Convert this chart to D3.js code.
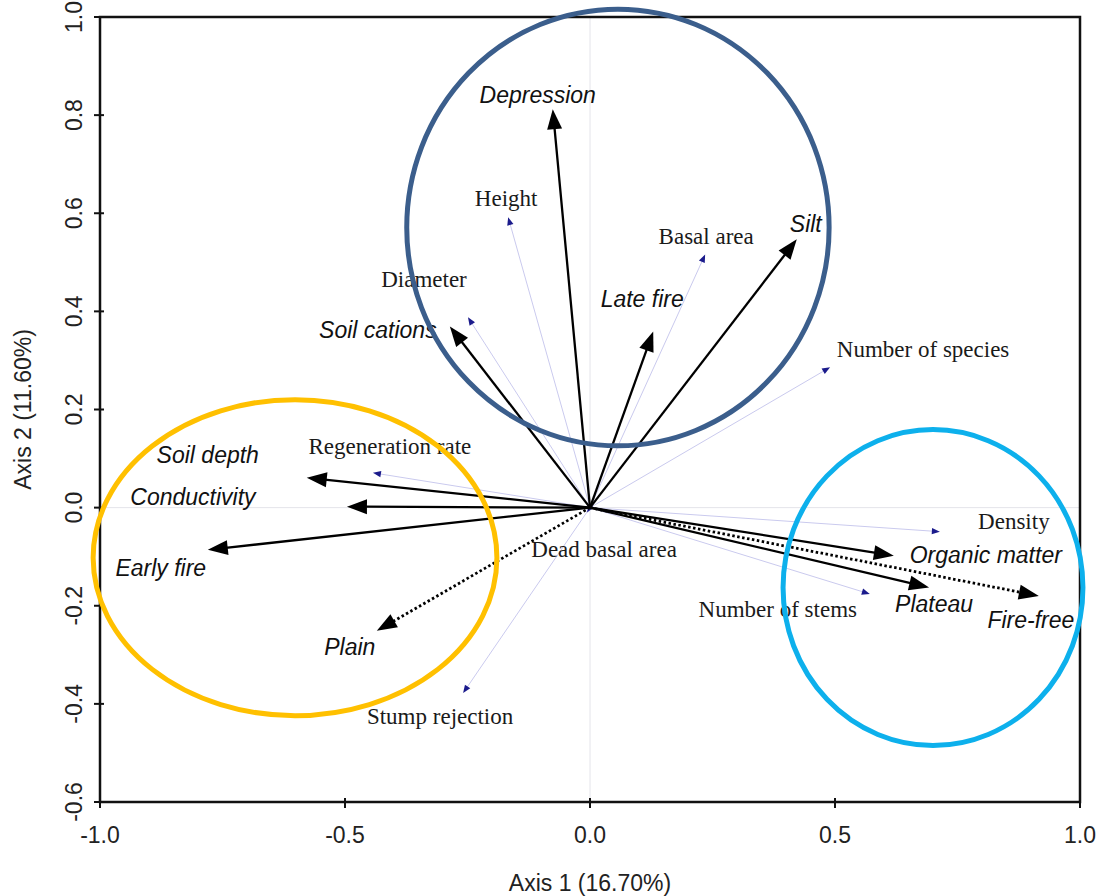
<!DOCTYPE html>
<html>
<head>
<meta charset="utf-8">
<script src="https://cdn.jsdelivr.net/npm/d3@7"></script>
<style>
  html, body { margin: 0; padding: 0; background: #fff; }
  svg { display: block; }
</style>
</head>
<body>
<svg id="chart" width="1097" height="896"></svg>
<script>
// ---------------- DATA ----------------
const xTickValues = [-1.0, -0.5, 0.0, 0.5, 1.0];
const xTickLabels = ["-1.0", "-0.5", "0.0", "0.5", "1.0"];
const yTickValues = [-0.6, -0.4, -0.2, 0.0, 0.2, 0.4, 0.6, 0.8, 1.0];
const yTickLabels = ["-0.6", "-0.4", "-0.2", "0.0", "0.2", "0.4", "0.6", "0.8", "1.0"];
const xAxisTitle = "Axis 1 (16.70%)";
const yAxisTitle = "Axis 2 (11.60%)";

// Environmental variables (black arrows)
const envNames = ["Depression", "Silt", "Late fire", "Soil cations", "Soil depth", "Conductivity",
                  "Early fire", "Plain", "Organic matter", "Plateau", "Fire-free"];
const envAxis1 = [-0.076, 0.422, 0.129, -0.286, -0.578, -0.496, -0.780, -0.435, 0.620, 0.692, 0.916];
const envAxis2 = [0.812, 0.547, 0.359, 0.369, 0.061, 0.002, -0.086, -0.251, -0.098, -0.163, -0.180];
const envDotted = [false, false, false, false, false, false, false, true, false, false, true];

// Stand structure variables (thin blue arrows)
const structNames = ["Height", "Basal area", "Diameter", "Number of species", "Regeneration rate",
                     "Density", "Number of stems", "Stump rejection", "Dead basal area"];
const structAxis1 = [-0.167, 0.235, -0.249, 0.490, -0.443, 0.714, 0.571, -0.259, -0.006];
const structAxis2 = [0.592, 0.516, 0.388, 0.286, 0.071, -0.049, -0.176, -0.378, -0.010];

// Highlight ellipses (centre and radii in axis units)
const groupNames = ["top", "left", "right"];
const groupCx = [0.057, -0.602, 0.700];
const groupCy = [0.571, -0.102, -0.163];
const groupRx = [0.431, 0.412, 0.306];
const groupRy = [0.445, 0.322, 0.322];

// ---------------- LAYOUT / STYLE ----------------
const groupColors = ["#3b5e8c", "#ffc000", "#0db0ec"];
// label offsets (px) from arrow tip: [dx (centre), dy (baseline)]
const envLabelOffsets = [[-15, -6], [9, -7], [-11, -24], [-72, 11], [-99, -15], [-154, -2],
                         [-47, 26], [-27, 24], [92, 7], [5, 24], [-8, 32]];
const structLabelOffsets = [[-2, -11], [1, -10], [-44, -30], [93, -10], [17, -19],
                            [74, -3], [-92, 23], [-23, 31], [17, 44]];

const svg = d3.select("#chart");
const x = d3.scaleLinear().domain([-1, 1]).range([100, 1080]);
const y = d3.scaleLinear().domain([-0.6, 1.0]).range([802, 17]);

const sansFont = "'Liberation Sans', Arial, Helvetica, sans-serif";
const serifFont = "'Liberation Serif', 'Times New Roman', serif";

// zero reference lines
svg.append("line").attr("x1", x(0)).attr("x2", x(0)).attr("y1", y(1)).attr("y2", y(-0.6))
  .attr("stroke", "#e4e4ea").attr("stroke-width", 1);
svg.append("line").attr("x1", x(-1)).attr("x2", x(1)).attr("y1", y(0)).attr("y2", y(0))
  .attr("stroke", "#e4e4ea").attr("stroke-width", 1);

// frame
svg.append("rect").attr("x", x(-1)).attr("y", y(1)).attr("width", x(1) - x(-1)).attr("height", y(-0.6) - y(1))
  .attr("fill", "none").attr("stroke", "#111").attr("stroke-width", 2.5);

// x ticks
const xg = svg.append("g");
xTickValues.forEach((v, i) => {
  xg.append("line").attr("x1", x(v)).attr("x2", x(v)).attr("y1", y(-0.6) - 4).attr("y2", y(-0.6) + 6)
    .attr("stroke", "#111").attr("stroke-width", 2);
  xg.append("text").attr("x", x(v)).attr("y", 843).attr("text-anchor", "middle")
    .attr("font-family", sansFont).attr("font-size", 23).attr("fill", "#222").text(xTickLabels[i]);
});
// y ticks
const yg = svg.append("g");
yTickValues.forEach((v, i) => {
  yg.append("line").attr("x1", x(-1) - 6).attr("x2", x(-1) + 4).attr("y1", y(v)).attr("y2", y(v))
    .attr("stroke", "#111").attr("stroke-width", 2);
  yg.append("text").attr("transform", `translate(82,${y(v)}) rotate(-90)`).attr("text-anchor", "middle")
    .attr("font-family", sansFont).attr("font-size", 23).attr("fill", "#222").text(yTickLabels[i]);
});
// axis titles
svg.append("text").attr("x", (x(-1) + x(1)) / 2).attr("y", 891).attr("text-anchor", "middle")
  .attr("font-family", sansFont).attr("font-size", 23).attr("fill", "#222").text(xAxisTitle);
svg.append("text").attr("transform", `translate(31,${(y(1) + y(-0.6)) / 2}) rotate(-90)`).attr("text-anchor", "middle")
  .attr("font-family", sansFont).attr("font-size", 23).attr("fill", "#222").text(yAxisTitle);

// arrow helper
function arrow(g, x0, y0, x1, y1, opt) {
  const dx = x1 - x0, dy = y1 - y0, L = Math.hypot(dx, dy);
  const ux = dx / L, uy = dy / L;
  const bx = x1 - ux * opt.head, by = y1 - uy * opt.head;
  const lineEnd = [bx + ux * 2, by + uy * 2];
  g.append("line").attr("x1", x0).attr("y1", y0).attr("x2", lineEnd[0]).attr("y2", lineEnd[1])
    .attr("stroke", opt.lineColor).attr("stroke-width", opt.width)
    .attr("stroke-dasharray", opt.dash || null);
  const px = -uy, py = ux;
  g.append("path")
    .attr("d", `M${x1},${y1}L${bx + px * opt.half},${by + py * opt.half}L${bx - px * opt.half},${by - py * opt.half}Z`)
    .attr("fill", opt.headColor);
}

// structure arrows (thin, lavender)
const sg = svg.append("g");
structNames.forEach((n, i) => {
  arrow(sg, x(0), y(0), x(structAxis1[i]), y(structAxis2[i]),
    { head: 8, half: 3.2, width: 1, lineColor: "#cacaee", headColor: "#1b1b8c" });
});
// environmental arrows
const eg = svg.append("g");
envNames.forEach((n, i) => {
  arrow(eg, x(0), y(0), x(envAxis1[i]), y(envAxis2[i]),
    { head: 20, half: 7.5, width: envDotted[i] ? 2.8 : 2.3, lineColor: "#000", headColor: "#000",
      dash: envDotted[i] ? "2.5,2.5" : null });
});

// labels
const lg = svg.append("g");
structNames.forEach((n, i) => {
  lg.append("text").attr("x", x(structAxis1[i]) + structLabelOffsets[i][0])
    .attr("y", y(structAxis2[i]) + structLabelOffsets[i][1]).attr("text-anchor", "middle")
    .attr("font-family", serifFont).attr("font-size", 23).attr("fill", "#1a1a1a").text(n);
});
envNames.forEach((n, i) => {
  lg.append("text").attr("x", x(envAxis1[i]) + envLabelOffsets[i][0])
    .attr("y", y(envAxis2[i]) + envLabelOffsets[i][1]).attr("text-anchor", "middle")
    .attr("font-family", sansFont).attr("font-style", "italic").attr("font-size", 23)
    .attr("fill", "#111").text(n);
});

// highlight ellipses (on top)
const cg = svg.append("g");
groupNames.forEach((n, i) => {
  cg.append("ellipse").attr("cx", x(groupCx[i])).attr("cy", y(groupCy[i]))
    .attr("rx", x(groupRx[i]) - x(0)).attr("ry", y(0) - y(groupRy[i]))
    .attr("fill", "none").attr("stroke", groupColors[i]).attr("stroke-width", 5);
});
</script>
</body>
</html>
